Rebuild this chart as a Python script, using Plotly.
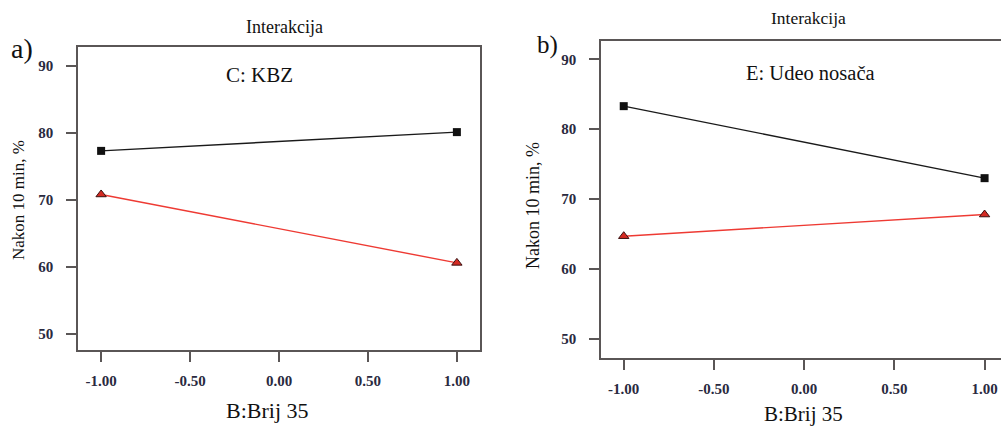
import plotly.graph_objects as go

# ---- data ----
brij_levels = [-1.0, 1.0]
kbz_black = [77.3, 80.1]
kbz_red = [70.8, 60.6]
udeo_black = [83.3, 73.0]
udeo_red = [64.7, 67.8]
x_tick_vals = [-1.0, -0.5, 0.0, 0.5, 1.0]
x_tick_text = ["-1.00", "-0.50", "0.00", "0.50", "1.00"]
y_tick_vals = [50, 60, 70, 80, 90]
y_tick_text = ["50", "60", "70", "80", "90"]

W, H = 1001, 427
SERIF = "Liberation Serif"
AX = "#5a5656"
TICKFONT = dict(family=SERIF, size=15, color="#2a2a40", weight="bold")

def px(x):
    return x / W

def py(y):
    return 1 - y / H

fig = go.Figure()

def add_series(xa, ya, blk, red):
    fig.add_trace(go.Scatter(x=brij_levels, y=blk, mode="lines+markers", xaxis=xa, yaxis=ya,
                             line=dict(color="#1a1a1a", width=1.4),
                             marker=dict(symbol="square", size=8, color="#111111"),
                             showlegend=False, hoverinfo="skip", cliponaxis=False))
    fig.add_trace(go.Scatter(x=brij_levels, y=red, mode="lines+markers", xaxis=xa, yaxis=ya,
                             line=dict(color="#ee3a33", width=1.4),
                             marker=dict(symbol="triangle-up", size=9, color="#d42a22",
                                         line=dict(color="#3a1010", width=1)),
                             showlegend=False, hoverinfo="skip", cliponaxis=False))

add_series("x", "y", kbz_black, kbz_red)
add_series("x2", "y2", udeo_black, udeo_red)

def xaxis(domain, rng, anchor):
    return dict(domain=domain, range=rng, anchor=anchor, tickvals=x_tick_vals, ticktext=x_tick_text,
                showgrid=False, zeroline=False, showline=True, linecolor=AX, linewidth=1.6,
                mirror=True, ticks="outside", ticklen=10, tickwidth=1.5, tickcolor=AX,
                tickfont=TICKFONT, ticklabelstandoff=6, fixedrange=True)

def yaxis(domain, rng, anchor, mirror):
    return dict(domain=domain, range=rng, anchor=anchor, tickvals=y_tick_vals, ticktext=y_tick_text,
                showgrid=False, zeroline=False, showline=True, linecolor=AX, linewidth=1.6,
                mirror=mirror, ticks="outside", ticklen=10, tickwidth=1.5, tickcolor=AX,
                tickfont=TICKFONT, ticklabelstandoff=10, fixedrange=True)

fig.update_layout(
    width=W, height=H,
    margin=dict(l=0, r=0, t=0, b=0),
    paper_bgcolor="white", plot_bgcolor="white",
    xaxis=xaxis([px(78), px(480)], [-1.13, 1.13], "y"),
    yaxis=yaxis([py(350), py(47)], [47.61, 92.79], "x", True),
    xaxis2=xaxis([px(601), 1.0], [-1.126, 1.091], "y2"),
    yaxis2=yaxis([py(358), py(40.7)], [47.28, 92.66], "x2", False),
)

def ann(text, x, y, size, angle=0):
    fig.add_annotation(text=text, x=px(x), y=py(y), xref="paper", yref="paper",
                       xanchor="center", yanchor="middle", showarrow=False, textangle=angle,
                       font=dict(family=SERIF, size=size, color="#111111"))

ann("Interakcija", 284, 27, 18)
ann("Interakcija", 808, 18, 17.5)
ann("a)", 22, 48, 28)
ann("b)", 547, 45, 25)
ann("C: KBZ", 259, 75, 21)
ann("E: Udeo nosača", 810, 73, 20.5)
ann("B:Brij 35", 267, 410, 22)
ann("B:Brij 35", 803, 414, 21)
ann("Nakon 10 min, %", 18, 200, 17, -90)
ann("Nakon 10 min, %", 533, 206, 18, -90)

fig.write_html("out.html", config={"displayModeBar": False},
               post_script="document.body.style.margin='0';document.body.style.overflow='hidden';")
